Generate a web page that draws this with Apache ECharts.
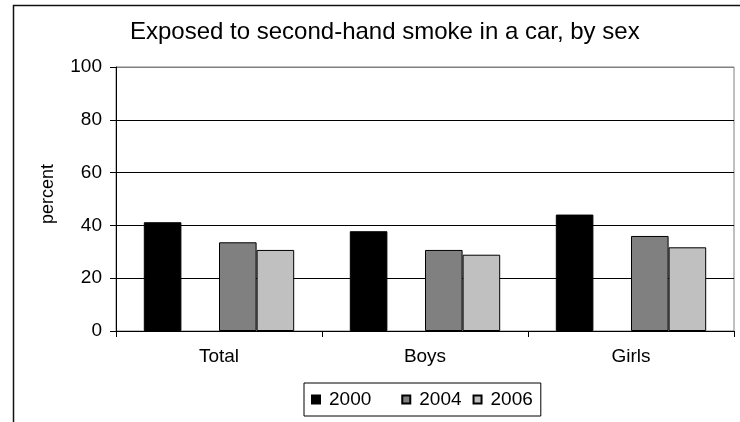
<!DOCTYPE html>
<html>
<head>
<meta charset="utf-8">
<script src="https://cdn.jsdelivr.net/npm/echarts@6/dist/echarts.min.js"></script>
<style>
html,body{margin:0;padding:0;background:#fff;}
#chart{width:740px;height:422px;}
</style>
</head>
<body>
<div id="chart"></div>
<script>
const categories = ['Total', 'Boys', 'Girls'];
const years = ['2000', '2004', '2006'];
const values2000 = [41.2, 37.8, 44.1];
const values2004 = [33.6, 30.7, 36.0];
const values2006 = [30.7, 28.9, 31.7];
const yTicks = [0, 20, 40, 60, 80, 100];

const FONT = "'Liberation Sans', Arial, sans-serif";
const chart = echarts.init(document.getElementById('chart'), null, {renderer: 'canvas'});

const barStyle = (c) => ({color: c, borderColor: '#000', borderWidth: 1});

const option = {
  animation: false,
  backgroundColor: '#fff',
  textStyle: {fontFamily: FONT, color: '#000'},
  title: {
    text: 'Exposed to second-hand smoke in a car, by sex',
    left: 125,
    top: 15,
    textStyle: {fontFamily: FONT, fontSize: 24, fontWeight: 'normal', color: '#000'}
  },
  graphic: [{
    type: 'rect',
    shape: {x: 13.5, y: 5.5, width: 900, height: 700},
    style: {fill: 'none', stroke: '#111', lineWidth: 1.5},
    silent: true
  }],
  grid: {
    left: 116, right: 6, top: 67, bottom: 91,
    show: true, borderColor: '#808080', borderWidth: 1, backgroundColor: 'transparent'
  },
  legend: {
    data: [years[0], {name: '_gap', itemStyle: {color: 'transparent', borderColor: 'transparent'}}, years[1], years[2]],
    formatter: (n) => n === '_gap' ? '' : n,
    selectedMode: false,
    icon: 'rect',
    left: 304,
    top: 383,
    padding: [7, 8, 7, 7],
    borderColor: '#000',
    borderWidth: 1,
    itemWidth: 8,
    itemHeight: 8,
    itemGap: 11,
    textStyle: {fontFamily: FONT, fontSize: 19, color: '#000', padding: [0, 0, 0, 4]}
  },
  xAxis: {
    type: 'category',
    data: categories,
    axisLine: {lineStyle: {color: '#000', width: 1}},
    axisTick: {show: true, length: 6, lineStyle: {color: '#000'}},
    axisLabel: {fontFamily: FONT, fontSize: 19, color: '#000', margin: 16}
  },
  yAxis: {
    type: 'value',
    min: yTicks[0],
    max: yTicks[yTicks.length - 1],
    interval: yTicks[1] - yTicks[0],
    name: 'percent',
    nameLocation: 'middle',
    nameRotate: 90,
    nameGap: 59,
    nameTextStyle: {fontFamily: FONT, fontSize: 18, color: '#000', padding: [0, 0, 0, 10]},
    axisLine: {show: true, lineStyle: {color: '#000', width: 1}},
    axisTick: {show: true, length: 6, lineStyle: {color: '#000'}},
    axisLabel: {fontFamily: FONT, fontSize: 19, color: '#000', margin: 14},
    splitLine: {show: true, lineStyle: {color: ['#000', '#000', '#000', '#000', '#000', '#808080'], width: 1}}
  },
  series: [
    {name: years[0], type: 'bar', data: values2000, itemStyle: barStyle('#000000'), barGap: '0%', barCategoryGap: '27%'},
    {name: '_gap', type: 'bar', data: ['-', '-', '-'], itemStyle: {color: 'transparent', borderColor: 'transparent'}},
    {name: years[1], type: 'bar', data: values2004, itemStyle: barStyle('#808080')},
    {name: years[2], type: 'bar', data: values2006, itemStyle: barStyle('#c0c0c0')}
  ]
};
chart.setOption(option);
</script>
</body>
</html>
